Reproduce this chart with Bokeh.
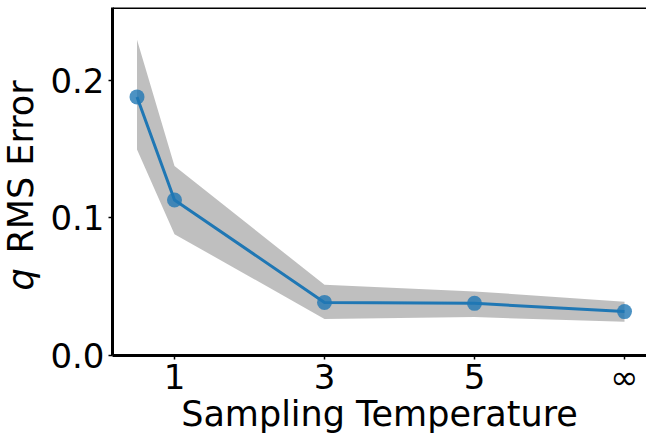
import numpy as np
from bokeh.plotting import figure
from bokeh.models import FixedTicker, Label, Span, Range1d
from bokeh.embed import file_html
from bokeh.resources import INLINE

# ---- data ----
temps = [0.5, 1, 3, 5, 7]            # 7 is displayed as infinity
rms_mean = [0.188, 0.113, 0.0386, 0.0379, 0.0319]
rms_upper = [0.2295, 0.1377, 0.0514, 0.0466, 0.0391]
rms_lower = [0.1498, 0.0882, 0.0266, 0.0279, 0.0246]
x_ticks = [1, 3, 5, 7]
x_tick_labels = ["1", "3", "5", "∞"]
y_ticks = [0.0, 0.1, 0.2]
y_tick_labels = ["0.0", "0.1", "0.2"]

FONT = "DejaVu Sans"
BLUE = "#1f77b4"

W, H = 646, 436
LEFT, TOP, BOTTOM = 112, 7, 81
SHIFT = 38                       # left panel is made wider, then shifted off-page
PX_PER_X = 75.0
x0 = 1 - (174 - LEFT) / PX_PER_X
p = figure(width=W + SHIFT, height=H, output_backend="svg", toolbar_location=None,
           x_range=Range1d(x0, x0 + (W - LEFT) / PX_PER_X),
           y_range=Range1d(0.0, 0.253),
           min_border_left=LEFT + SHIFT, min_border_right=0, min_border_top=TOP,
           min_border_bottom=BOTTOM, margin=(0, 0, 0, -SHIFT))
p.outline_line_color = None
p.xgrid.visible = False
p.ygrid.visible = False
p.background_fill_color = "white"
p.border_fill_color = "white"

# band
p.varea(x=temps, y1=rms_lower, y2=rms_upper, fill_color="gray", fill_alpha=0.5)
# line and markers
p.line(temps, rms_mean, line_color=BLUE, line_width=3)
p.scatter(temps, rms_mean, size=15, fill_color=BLUE, fill_alpha=0.8, line_color=None)

# top spine
p.add_layout(Span(location=0.253, dimension="width", line_color="black", line_width=3))

# axes
for ax in (p.xaxis[0], p.yaxis[0]):
    ax.axis_line_width = 3
    ax.axis_line_color = "black"
    ax.major_tick_line_color = "black"
    ax.major_tick_line_width = 1.5
    ax.major_tick_out = 4
    ax.major_tick_in = 0
    ax.minor_tick_line_color = None
    ax.major_label_text_font = FONT
    ax.major_label_text_font_size = "34px"
    ax.major_label_text_color = "black"

p.xaxis.ticker = FixedTicker(ticks=x_ticks)
p.xaxis.major_label_overrides = {t: l for t, l in zip(x_ticks, x_tick_labels)}
p.xaxis.major_label_standoff = -3
p.xaxis.axis_label = "Sampling Temperature"
p.xaxis.axis_label_text_font = FONT
p.xaxis.axis_label_text_font_size = "35px"
p.xaxis.axis_label_text_font_style = "normal"
p.xaxis.axis_label_text_color = "black"
p.xaxis.axis_label_standoff = -6

p.yaxis.ticker = FixedTicker(ticks=y_ticks)
p.yaxis.major_label_overrides = {t: l for t, l in zip(y_ticks, y_tick_labels)}
p.yaxis.major_label_standoff = 4

# y label: italic q + "RMS Error" (rotated labels in the left panel)
LX = 20 + SHIFT
p.add_layout(Label(x=LX, y=290, x_units="canvas", y_units="canvas", angle=np.pi / 2,
                   text="q", text_font=FONT, text_font_style="italic",
                   text_font_size="35px", text_baseline="alphabetic", text_align="left",
                   text_color="black"), "left")
p.add_layout(Label(x=LX, y=253, x_units="canvas", y_units="canvas", angle=np.pi / 2,
                   text="RMS Error", text_font=FONT, text_font_style="normal",
                   text_font_size="35px", text_baseline="alphabetic", text_align="left",
                   text_color="black"), "left")

open("out.html", "w").write(file_html(p, INLINE))
